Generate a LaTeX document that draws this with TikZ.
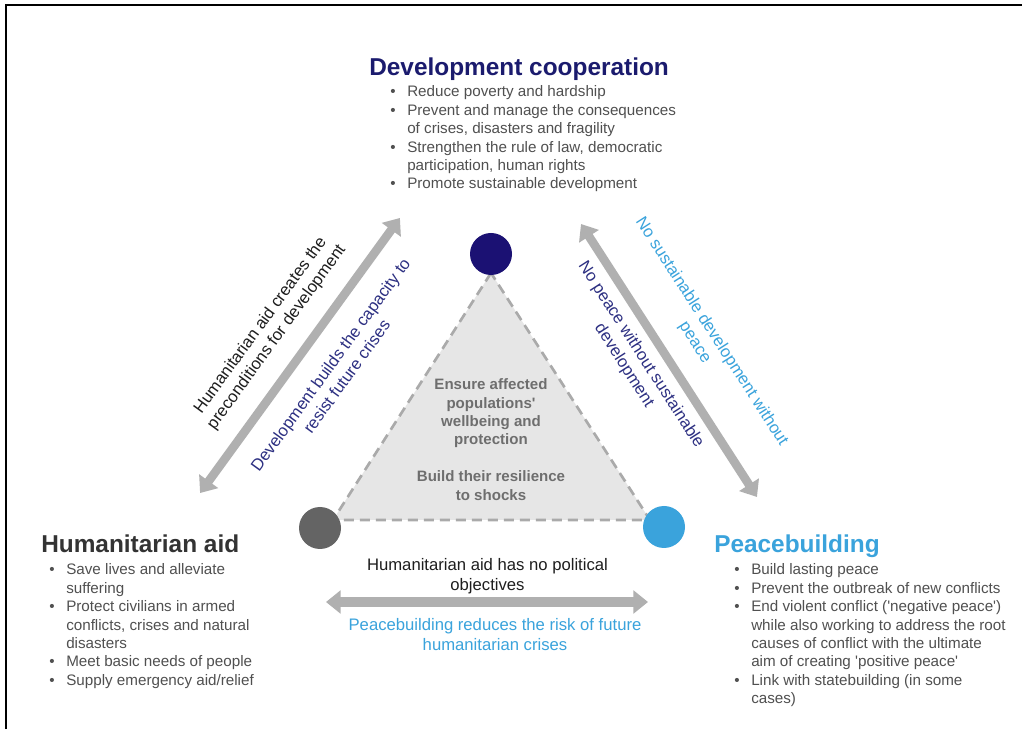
\documentclass[tikz,border=0pt]{standalone}
\usepackage{fontspec}
\setmainfont{Liberation Sans}
\usetikzlibrary{arrows.meta}

\definecolor{devnavy}{RGB}{27,27,110}
\definecolor{devdot}{RGB}{27,17,115}
\definecolor{navytext}{RGB}{45,48,130}
\definecolor{peaceblue}{RGB}{58,163,220}
\definecolor{humgray}{RGB}{51,51,51}
\definecolor{humdot}{RGB}{100,100,100}
\definecolor{bodygray}{RGB}{80,80,80}
\definecolor{midgray}{RGB}{110,110,110}
\definecolor{darktext}{RGB}{30,30,30}
\definecolor{arrowgray}{RGB}{176,176,176}
\definecolor{trifill}{RGB}{230,230,230}
\definecolor{dashgray}{RGB}{170,170,170}

\newcommand{\bitem}{\makebox[12.75pt][l]{\textbullet}}
\newcommand{\mlines}[1]{\begin{tabular}[t]{@{}c@{}}#1\end{tabular}}
\newcommand{\blist}[1]{\begin{tabular}[t]{@{}l@{}l@{}}#1\end{tabular}}

\begin{document}
\begin{tikzpicture}[x=0.75pt,y=0.75pt,
  bigarrow/.style={draw=arrowgray,line width=6.5pt,
    {Triangle[width=17pt,length=11pt]}-{Triangle[width=17pt,length=11pt]}},
  head/.style={inner sep=0pt,anchor=base west,font=\fontsize{18.3}{21}\selectfont\bfseries},
  body/.style={inner sep=0pt,anchor=base west,text=bodygray,font=\fontsize{11.4}{13.8}\selectfont},
  arrlbl/.style={inner sep=0pt,font=\fontsize{12.5}{15}\selectfont},
  midtxt/.style={inner sep=0pt,anchor=base,text=midgray,font=\fontsize{11.3}{13.6}\selectfont\bfseries},
  dot/.style={circle,inner sep=0pt,minimum size=31.5pt}]
\useasboundingbox (0,0) rectangle (1022,729);
\fill[white] (0,0) rectangle (1022,729);
\draw[line width=1.5pt] (6,0) -- (6,723.5) -- (1022,723.5);

% middle triangle
\filldraw[fill=trifill,draw=dashgray,line width=2pt,dash pattern=on 7.5pt off 4.5pt]
  (491,456) -- (333,209) -- (650,209) -- cycle;
\node[dot,fill=devdot] (dev) at (491,475) {};
\node[dot,fill=humdot] (hum) at (320,201) {};
\node[dot,fill=peaceblue] (peace) at (664,202) {};
\node[midtxt] (ensure) at (491,339) {\mlines{Ensure affected\\populations\textquotesingle\\wellbeing and\\protection}};
\node[midtxt] (resil) at (491,247) {\mlines{Build their resilience\\to shocks}};

\begin{scope}[shift={(300,373.5)},rotate=54] %hum-dev
  \coordinate (hd1) at (-170,0);
  \coordinate (hd2) at (170,0);
  \draw[bigarrow] (hd1) -- (hd2);
  \node[arrlbl,transform shape,text=darktext] (precond) at (1,39)
    {\mlines{Humanitarian aid creates the\\preconditions for development}};
  \node[arrlbl,transform shape,text=navytext] (capacity) at (10.5,-41.8)
    {\mlines{Development builds the capacity to\\resist future crises}};
\end{scope}

\begin{scope}[shift={(669,368.5)},rotate=-57.2] %dev-peace
  \coordinate (dp1) at (-162.4,0);
  \coordinate (dp2) at (162.4,0);
  \draw[bigarrow] (dp1) -- (dp2);
  \node[arrlbl,transform shape,text=peaceblue] (nosust) at (-1,41)
    {\mlines{No sustainable development without\\peace}};
  \node[arrlbl,transform shape,text=navytext] (nopeace) at (-20,-31)
    {\mlines{No peace without sustainable\\development}};
\end{scope}

% hum-peace
\coordinate (hp1) at (326,127);
\coordinate (hp2) at (648,127);
\draw[bigarrow,line width=7.5pt] (hp1) -- (hp2);
\node[arrlbl,anchor=base,text=darktext] (nopol) at (487.5,158.3)
  {\mlines{Humanitarian aid has no political\\objectives}};
\node[arrlbl,anchor=base,text=peaceblue] (risk) at (495,98.3)
  {\mlines{Peacebuilding reduces the risk of future\\humanitarian crises}};

% development cooperation
\node[head,text=devnavy] (devhead) at (369,653) {Development cooperation};
\node[body] (devlist) at (390,632) {\blist{
  \bitem & Reduce poverty and hardship\\
  \bitem & Prevent and manage the consequences\\
         & of crises, disasters and fragility\\
  \bitem & Strengthen the rule of law, democratic\\
         & participation, human rights\\
  \bitem & Promote sustainable development}};

% humanitarian aid
\node[head,text=humgray] (humhead) at (41,176) {Humanitarian aid};
\node[body] (humlist) at (49,154) {\blist{
  \bitem & Save lives and alleviate\\
         & suffering\\
  \bitem & Protect civilians in armed\\
         & conflicts, crises and natural\\
         & disasters\\
  \bitem & Meet basic needs of people\\
  \bitem & Supply emergency aid/relief}};

% peacebuilding
\node[head,text=peaceblue] (peacehead) at (714,176) {Peacebuilding};
\node[body] (peacelist) at (734,154) {\blist{
  \bitem & Build lasting peace\\
  \bitem & Prevent the outbreak of new conflicts\\
  \bitem & End violent conflict (\textquotesingle negative peace\textquotesingle)\\
         & while also working to address the root\\
         & causes of conflict with the ultimate\\
         & aim of creating \textquotesingle positive peace\textquotesingle\\
  \bitem & Link with statebuilding (in some\\
         & cases)}};
\end{tikzpicture}
\end{document}
